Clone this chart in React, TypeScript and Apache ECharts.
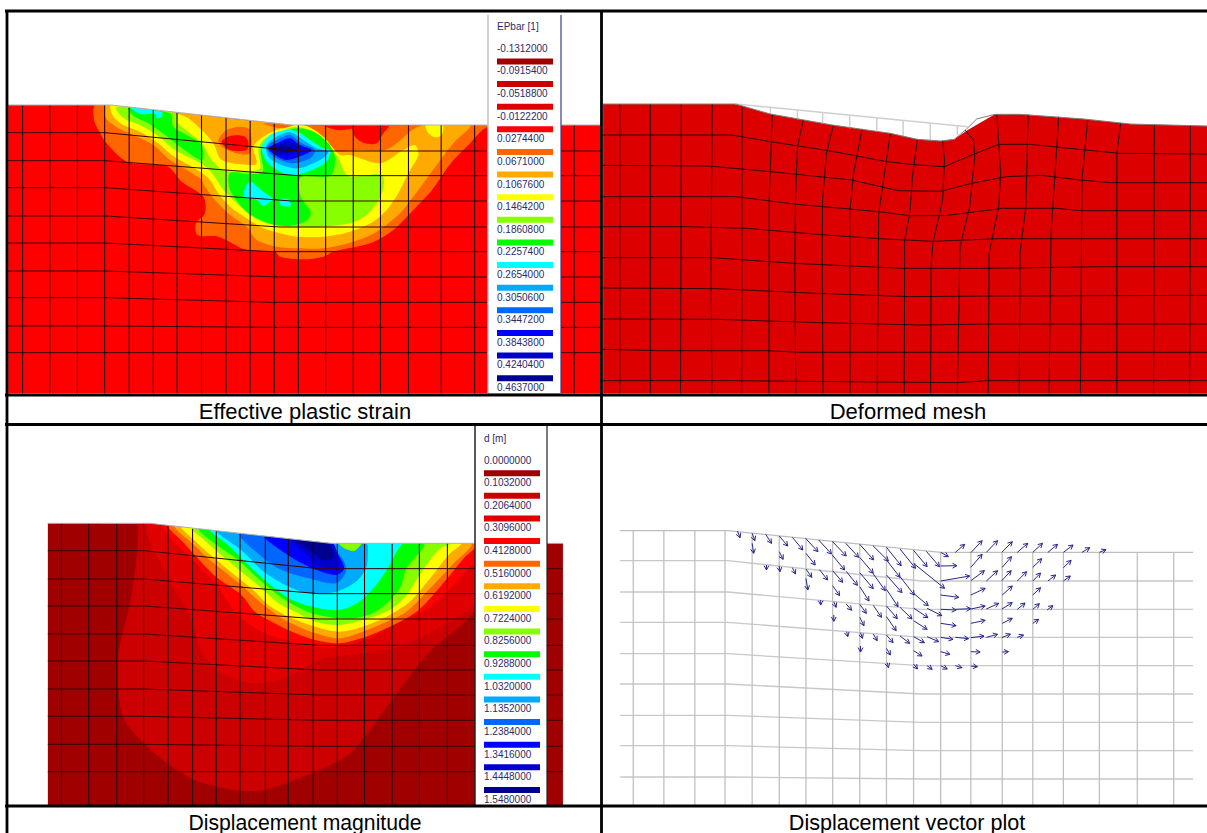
import React, { useEffect, useRef } from "react";
import * as echarts from "echarts";

type P = number[];
const C = { dk: "#a00000", r1: "#cc0000", r2: "#e00000", red: "#ff0000", or: "#ff6600", am: "#ffaa00", ye: "#ffff00", li: "#88ff00", gr: "#00ff00", cy: "#00ffff", sk: "#00aaff", az: "#0066ff", bl: "#0000ff", b2: "#0000cc", b3: "#000090" };

const strainTicks = ["-0.1312000", "-0.0915400", "-0.0518800", "-0.0122200", "0.0274400", "0.0671000", "0.1067600", "0.1464200", "0.1860800", "0.2257400", "0.2654000", "0.3050600", "0.3447200", "0.3843800", "0.4240400", "0.4637000"];
const dispTicks = ["0.0000000", "0.1032000", "0.2064000", "0.3096000", "0.4128000", "0.5160000", "0.6192000", "0.7224000", "0.8256000", "0.9288000", "1.0320000", "1.1352000", "1.2384000", "1.3416000", "1.4448000", "1.5480000"];
const strainSwatches = [C.dk, C.r1, C.r2, C.red, C.or, C.am, C.ye, C.li, C.gr, C.cy, C.sk, C.az, C.bl, C.b2, C.b3];
const captions: [string, number, number, number][] = [["Effective plastic strain", 305, 411, 22], ["Deformed mesh", 908, 411, 22], ["Displacement magnitude", 305, 822, 21.2], ["Displacement vector plot", 907, 822, 21.6]];

// Panel A mesh
const aDomain: P[] = [[21, 315], [285, 315], [750, 375], [1545, 375], [1545, 1180], [21, 1180]];
const aSky: P[] = [[-30, -30], [1100, -30], [1300, 75], [610, 75], [65, 15], [-30, 15]];
const aRows: P[][] = [
  [[21, 398], [270, 398], [767, 453], [1545, 453]], [[21, 482], [270, 482], [767, 527], [1545, 527]],
  [[21, 563], [270, 563], [750, 603], [1545, 603]], [[21, 648], [270, 648], [720, 681], [1545, 681]],
  [[21, 729], [270, 729], [700, 755], [1545, 755]], [[21, 813], [270, 813], [720, 831], [1545, 831]],
  [[21, 893], [270, 893], [700, 907], [1545, 907]], [[21, 978], [270, 978], [700, 982], [1545, 982]],
  [[21, 1058], [1545, 1058]],
];
const aColX = [58, 128, 199, 269, 332, 394, 455, 518, 581, 643, 705, 767, 837, 908, 978, 1050, 1134, 1220, 1476];
const aColTop = [315, 315, 315, 315, 322, 330, 338, 346, 354, 362, 370, 375, 375, 375, 375, 375, 375, 375, 375];

// Panel A contours
const strainLayers: [string, P[]][] = [
  [C.or, [[15, 15], [12, 60], [25, 90], [50, 130], [110, 185], [190, 195], [235, 200], [275, 245], [340, 290], [345, 340], [318, 370], [322, 405], [385, 410], [470, 450], [555, 455], [570, 470], [640, 478], [700, 470], [730, 455], [840, 430], [910, 390], [970, 330], [1026, 270], [1083, 189], [1140, 130], [1177, 90], [1200, 75], [610, 75], [65, 15]]],
  [C.am, [[45, 18], [48, 55], [85, 85], [130, 105], [190, 135], [240, 180], [330, 235], [345, 260], [375, 300], [420, 345], [470, 380], [500, 420], [560, 440], [620, 445], [700, 445], [790, 425], [860, 395], [930, 340], [985, 270], [1040, 195], [1090, 130], [1140, 75], [1000, 75], [960, 95], [920, 130], [885, 150], [800, 150], [720, 150], [640, 75], [480, 62], [65, 15]]],
  [C.ye, [[60, 20], [70, 50], [100, 75], [150, 95], [205, 130], [245, 165], [330, 215], [360, 240], [385, 280], [420, 320], [470, 355], [520, 385], [570, 400], [620, 410], [700, 410], [780, 395], [850, 365], [890, 330], [925, 280], [955, 220], [985, 165], [975, 135], [940, 150], [870, 190], [780, 165], [750, 165], [700, 110], [650, 78], [600, 75], [570, 85], [520, 110], [490, 140], [500, 190], [480, 195], [395, 180], [370, 130], [330, 85], [275, 45], [65, 15]]],
  [C.ye, [[1008, 75], [1015, 100], [1035, 112], [1055, 105], [1058, 75]]],
  [C.li, [[80, 20], [85, 40], [110, 60], [150, 75], [200, 105], [255, 150], [340, 195], [370, 225], [400, 270], [440, 310], [480, 345], [530, 370], [600, 380], [690, 380], [780, 370], [830, 345], [860, 310], [880, 265], [875, 225], [775, 228], [745, 175], [720, 140], [680, 100], [620, 80], [570, 95], [520, 120], [505, 150], [510, 205], [470, 215], [400, 210], [365, 180], [335, 130], [300, 100], [265, 70], [260, 40]]],
  [C.gr, [[115, 25], [130, 48], [175, 70], [225, 105], [270, 140], [335, 180], [335, 135], [290, 105], [250, 80], [240, 40]]],
  [C.gr, [[420, 218], [420, 270], [470, 335], [530, 368], [590, 378], [650, 362], [662, 335], [632, 290], [632, 232], [720, 228], [735, 175], [715, 130], [670, 95], [620, 85], [570, 100], [525, 125], [512, 155], [518, 215], [470, 222]]],
  [C.cy, [[125, 24], [150, 42], [195, 42], [200, 55], [215, 50], [215, 36]]],
  [C.cy, [[478, 245], [460, 290], [500, 300], [520, 318], [540, 305], [550, 298], [520, 275]]],
  [C.cy, [[568, 298], [572, 316], [602, 318], [595, 298]]],
  [C.or, [[385, 120], [410, 90], [450, 80], [480, 90], [480, 160], [440, 160], [395, 140]]],
  [C.red, [[395, 125], [420, 108], [460, 108], [475, 125], [470, 150], [420, 150]]],
  [C.red, [[790, 78], [795, 110], [825, 130], [860, 130], [880, 100], [895, 78]]],
  [C.red, [[700, 76], [790, 76], [790, 85], [740, 90]]],
  [C.or, [[520, 70], [610, 75], [570, 85]]],
  [C.cy, [[520, 130], [540, 105], [590, 90], [625, 95], [660, 120], [700, 145], [722, 152], [705, 190], [620, 225], [570, 215], [530, 185], [515, 150]]],
  [C.sk, [[530, 135], [560, 110], [600, 97], [640, 120], [680, 145], [715, 155], [690, 180], [625, 205], [575, 195], [535, 170]]],
  [C.az, [[530, 140], [570, 115], [600, 105], [635, 130], [675, 150], [660, 175], [610, 190], [570, 180], [545, 165]]],
  [C.bl, [[535, 145], [570, 125], [600, 115], [630, 135], [665, 150], [640, 165], [590, 180], [555, 165]]],
  [C.b2, [[540, 145], [575, 130], [605, 125], [630, 145], [600, 165], [565, 165]]],
  [C.b3, [[545, 147], [580, 137], [620, 148], [590, 158], [560, 155]]],
];

// Panel B mesh
const bDomain: P[] = [[8, 312], [350, 312], [440, 342], [600, 375], [750, 400], [820, 418], [880, 423], [915, 418], [950, 390], [1020, 343], [1085, 343], [1250, 357], [1370, 372], [1568, 378], [1568, 1180], [8, 1180]];
const bRows: P[][] = [
  [[8, 405], [340, 405], [440, 425], [590, 452], [740, 485], [820, 495], [890, 500], [950, 470], [1030, 433], [1110, 433], [1340, 460], [1568, 462]],
  [[8, 496], [280, 498], [440, 515], [650, 540], [770, 572], [880, 574], [960, 550], [1050, 530], [1140, 526], [1240, 540], [1320, 548], [1568, 548]],
  [[8, 590], [350, 590], [500, 612], [720, 635], [800, 647], [890, 647], [1040, 625], [1180, 625], [1240, 632], [1568, 632]],
  [[8, 680], [220, 680], [380, 685], [560, 703], [720, 716], [860, 724], [1030, 716], [1568, 716]],
  [[8, 773], [290, 773], [500, 790], [780, 805], [1000, 805], [1310, 800], [1568, 800]],
  [[8, 864], [300, 866], [560, 880], [800, 890], [1030, 888], [1568, 886]],
  [[8, 957], [300, 958], [570, 968], [830, 975], [1010, 972], [1568, 972]],
  [[8, 1048], [150, 1052], [430, 1052], [520, 1057], [1568, 1057]],
  [[8, 1142], [340, 1142], [920, 1148], [1000, 1142], [1568, 1142]],
];
const bCols: P[][] = [
  [[51, 312], [51, 1180]], [[130, 312], [130, 1180]], [[210, 312], [208, 1180]], [[290, 312], [287, 750], [287, 800], [289, 1180]],
  [[367, 318], [366, 1180]], [[445, 342], [437, 600], [436, 1180]], [[525, 360], [510, 440], [505, 600], [503, 800], [506, 1180]],
  [[603, 375], [585, 460], [575, 600], [574, 770], [576, 1180]], [[677, 388], [655, 520], [645, 640], [646, 1180]],
  [[750, 400], [740, 480], [720, 640], [716, 1180]], [[820, 418], [808, 520], [800, 640], [787, 720], [786, 1180]],
  [[885, 423], [890, 480], [885, 600], [860, 730], [855, 800], [854, 1180]], [[943, 390], [965, 420], [968, 470], [955, 620], [930, 740], [923, 1180]],
  [[1025, 343], [1035, 520], [1030, 620], [1005, 760], [1003, 1180]], [[1106, 343], [1100, 620], [1085, 760], [1083, 1180]],
  [[1185, 350], [1175, 530], [1165, 700], [1160, 1180]], [[1260, 358], [1245, 540], [1241, 1180]], [[1345, 370], [1335, 460], [1335, 1180]],
  [[1432, 376], [1430, 1180]], [[1525, 378], [1525, 550], [1523, 1180]],
];
const bGhost: P[][] = [
  [[350, 312], [950, 380]], [[440, 322], [440, 342]], [[510, 330], [510, 358]], [[575, 337], [575, 372]], [[645, 345], [645, 385]],
  [[715, 352], [715, 395]], [[783, 362], [783, 408]], [[853, 370], [853, 420]], [[923, 378], [923, 405]],
];
const bOutline: P[] = [[8, 312], [350, 312], [440, 342], [600, 375], [750, 400], [820, 418], [880, 423], [915, 418], [947, 387], [973, 357], [1020, 343], [1085, 343], [1250, 357], [1370, 372], [1568, 378]];

// Panel C mesh
const cDomain: P[] = [[123, 310], [385, 310], [850, 370], [1447, 370], [1447, 1155], [123, 1155]];
const cSky: P[] = [[-60, -60], [1200, -60], [1200, 85], [630, 85], [90, 25], [-60, 25]];
const cRowLeft = [392, 477, 558, 642, 723, 807, 889, 973, 1055];
const cRowRight = [446, 521, 597, 676, 750, 825, 901, 979, 1055];
const cColX = [158, 228, 300, 369, 432, 495, 556, 617, 682, 741, 805, 867, 937, 1008, 1078, 1150];
const cColTop = [310, 310, 310, 310, 318, 326, 334, 341, 349, 357, 365, 370, 370, 370, 370, 370];

// Panel C contours
const dispLayers: [string, P[]][] = [
  [C.r1, [[54, 25], [54, 55], [48, 135], [31, 255], [-4, 415], [-4, 535], [13, 615], [71, 685], [140, 745], [221, 795], [337, 825], [429, 825], [568, 775], [683, 715], [799, 565], [914, 415], [1058, 275], [1058, 85], [630, 85], [90, 25]]],
  [C.r2, [[88, 25], [140, 185], [209, 305], [244, 415], [302, 475], [394, 505], [498, 485], [590, 435], [717, 415], [830, 395], [960, 330], [1068, 250], [1068, 85], [630, 85]]],
  [C.red, [[125, 29], [150, 70], [200, 120], [250, 170], [290, 215], [350, 300], [420, 350], [490, 375], [580, 395], [650, 395], [740, 370], [830, 320], [900, 290], [970, 230], [1030, 165], [1068, 130], [1068, 85], [630, 85]]],
  [C.or, [[145, 31], [190, 85], [240, 140], [290, 190], [360, 240], [400, 290], [450, 320], [510, 350], [580, 375], [650, 385], [730, 365], [790, 340], [880, 290], [950, 215], [1020, 130], [1060, 85], [630, 85]]],
  [C.am, [[165, 33], [215, 85], [260, 130], [310, 170], [365, 215], [420, 265], [480, 310], [530, 335], [580, 355], [650, 370], [720, 350], [780, 325], [850, 290], [920, 220], [985, 150], [1040, 85], [630, 85]]],
  [C.ye, [[185, 36], [225, 80], [280, 130], [340, 180], [395, 225], [440, 270], [500, 305], [580, 335], [650, 350], [720, 335], [790, 305], [860, 260], [920, 190], [975, 120], [1010, 85], [630, 85]]],
  [C.li, [[215, 39], [250, 75], [300, 120], [360, 170], [420, 220], [470, 265], [520, 290], [580, 320], [650, 330], [720, 315], [800, 285], [850, 240], [895, 170], [950, 100], [985, 85], [630, 85]]],
  [C.gr, [[235, 41], [280, 85], [350, 135], [420, 200], [490, 255], [570, 295], [650, 310], [720, 305], [780, 275], [830, 220], [850, 160], [900, 85], [630, 85]]],
  [C.cy, [[270, 45], [320, 90], [365, 135], [440, 205], [510, 255], [590, 280], [650, 285], [710, 260], [760, 210], [800, 150], [820, 110], [835, 85], [630, 85]]],
  [C.sk, [[290, 47], [365, 110], [420, 165], [490, 210], [560, 235], [640, 230], [700, 200], [730, 160], [735, 120], [730, 85], [630, 85]]],
  [C.li, [[650, 85], [665, 100], [695, 108], [715, 85]]],
  [C.az, [[355, 55], [420, 125], [480, 165], [560, 190], [640, 205], [670, 170], [665, 140], [645, 110], [630, 85]]],
  [C.bl, [[430, 63], [490, 115], [560, 155], [640, 180], [665, 160], [645, 115], [630, 85]]],
  [C.b2, [[505, 71], [560, 125], [600, 158], [640, 155], [640, 120], [625, 85]]],
  [C.b3, [[520, 72], [570, 110], [600, 135], [630, 130], [635, 110], [610, 82]]],
];

// Panel D mesh
const dRowLeft = [182, 276, 367, 461, 552, 646, 737, 831];
const dRowRight = [243, 328, 412, 497, 582, 667, 752, 837];
const dColX = [86, 165, 245, 323, 393, 463, 532, 601, 671, 740, 810, 880, 958, 1039, 1118, 1197, 1290, 1388, 1482];
const dColTop = [92, 92, 92, 92, 99, 108, 116, 124, 132, 140, 149, 157, 157, 157, 157, 157, 157, 157, 157];
const dSurface: P[] = [[52, 92], [330, 92], [880, 157], [1532, 157]];

// Panel D vectors: tail x, tail y, head x, head y
const vectors: number[][] = [
  [355, 93, 362, 113], [393, 100, 400, 122], [428, 103, 443, 130], [463, 108, 485, 138], [497, 112, 524, 150], [531, 115, 563, 155], [565, 120, 598, 162], [600, 124, 636, 168], [635, 130, 668, 172], [671, 133, 707, 180], [705, 137, 745, 183], [740, 142, 778, 197], [775, 147, 815, 205], [810, 151, 845, 200], [843, 154, 877, 200], [880, 157, 900, 170],
  [918, 157, 942, 133], [958, 158, 987, 122], [998, 157, 1027, 122], [1038, 157, 1065, 125], [1078, 157, 1105, 130], [1118, 157, 1143, 130], [1157, 157, 1182, 133], [1197, 157, 1222, 135], [1245, 157, 1265, 143], [1290, 157, 1307, 149],
  [393, 130, 397, 160], [463, 155, 473, 178], [532, 160, 556, 195], [600, 165, 632, 210], [671, 172, 706, 220], [740, 180, 775, 232], [810, 190, 890, 265], [880, 198, 922, 197], [958, 202, 987, 163], [1039, 202, 1063, 170], [1118, 202, 1141, 176], [1197, 203, 1217, 181],
  [430, 195, 430, 210], [463, 198, 465, 215], [497, 203, 505, 222], [532, 207, 547, 232], [567, 209, 588, 240], [601, 212, 627, 247], [636, 214, 665, 256], [671, 218, 706, 266], [706, 222, 737, 272], [740, 225, 780, 278], [775, 230, 812, 285], [880, 243, 955, 228], [958, 242, 993, 212], [998, 243, 1027, 212], [1038, 242, 1062, 212], [1078, 243, 1102, 215], [1118, 243, 1138, 219], [1157, 243, 1177, 225], [1197, 243, 1215, 228],
  [532, 235, 537, 270], [601, 257, 619, 287], [671, 260, 695, 303], [740, 268, 770, 320], [810, 280, 848, 317], [880, 285, 927, 292], [958, 285, 995, 265], [1039, 285, 1065, 258], [1118, 285, 1138, 263],
  [570, 300, 570, 315], [604, 305, 610, 322], [636, 312, 650, 331], [671, 313, 688, 340], [706, 316, 727, 352], [740, 318, 768, 356], [775, 322, 806, 357], [810, 324, 847, 353], [845, 325, 883, 347], [880, 328, 920, 330], [918, 328, 958, 326], [958, 327, 995, 318], [998, 327, 1030, 310], [1038, 327, 1065, 308], [1078, 328, 1098, 309], [1118, 328, 1135, 311], [1155, 330, 1170, 317],
  [604, 345, 604, 364], [671, 352, 682, 377], [740, 350, 765, 392], [810, 362, 845, 388], [880, 370, 920, 377], [958, 370, 995, 361], [1039, 370, 1065, 355], [1118, 370, 1133, 358],
  [637, 395, 640, 410], [673, 398, 678, 415], [706, 402, 716, 422], [740, 405, 757, 428], [775, 408, 800, 430], [810, 410, 838, 428], [845, 410, 875, 425], [880, 412, 912, 418], [918, 412, 952, 416], [958, 413, 992, 408], [998, 412, 1027, 403], [1038, 413, 1060, 402], [1078, 412, 1094, 405],
  [673, 438, 673, 456], [740, 445, 750, 465], [810, 452, 832, 468], [880, 455, 904, 463], [958, 455, 982, 456], [1039, 456, 1055, 455],
  [742, 488, 745, 503], [810, 492, 820, 507], [845, 497, 858, 508], [880, 497, 897, 507], [918, 497, 935, 503], [958, 498, 975, 500],
];

const views = [
  { left: 0, top: 0, width: 1207, height: 833, x: 1207, y: 833 },
  { left: 0, top: 0, width: 610, height: 430, x: 1568, y: 1290 },
  { left: 90, top: 100, width: 350, height: 170, x: 1050, y: 510 },
  { left: 600, top: 0, width: 607, height: 430, x: 1568, y: 1290 },
  { left: 0, top: 420, width: 610, height: 413, x: 1568, y: 1239 },
  { left: 120, top: 515, width: 360, height: 170, x: 1068, y: 510 },
  { left: 600, top: 500, width: 607, height: 333, x: 1568, y: 999 },
];
const PAGE = 0, A = 1, A2 = 2, B = 3, CC = 4, C2 = 5, D = 6;

let seq = 0;
function series(view: number, n: number, draw: (i: number, api: any) => any) {
  return {
    type: "custom", coordinateSystem: "cartesian2d", xAxisIndex: view, yAxisIndex: view, clip: false, silent: true, z: 2 + seq++,
    data: Array.from({ length: n }, (_, i) => [i, 0]), encode: { x: 0, y: 1 },
    renderItem: (_: any, api: any) => draw(api.value(0), api),
  };
}
const polygons = (view: number, items: [string, P[]][], smooth = 0) =>
  series(view, items.length, (i, api) => ({ type: "polygon", shape: { points: items[i][1].map((p) => api.coord(p)), smooth }, style: { fill: items[i][0], stroke: null } }));
const polylines = (view: number, items: P[][], stroke: string, lineWidth: number) =>
  series(view, items.length, (i, api) => ({ type: "polyline", shape: { points: items[i].map((p) => api.coord(p)) }, style: { stroke, lineWidth, fill: null } }));

function legend(x: number, right: number, top: number, bottom: number, firstText: number, title: string, titleY: number, ticks: string[], lb: string, rb: string) {
  const out: any[] = [];
  out.push(series(PAGE, 1, (_, api) => {
    const a = api.coord([x - 9, top]), b = api.coord([right, bottom]);
    return { type: "rect", shape: { x: a[0], y: a[1], width: b[0] - a[0], height: b[1] - a[1] }, style: { fill: "#ffffff" } };
  }));
  out.push(polylines(PAGE, [[[x - 9, top], [x - 9, bottom]]], lb, 1.5));
  out.push(polylines(PAGE, [[[right, top], [right, bottom]]], rb, 1.2));
  out.push(series(PAGE, strainSwatches.length, (i, api) => {
    const a = api.coord([x, firstText + 10.2 + i * 22.62]), b = api.coord([x + 56, firstText + 16.2 + i * 22.62]);
    return { type: "rect", shape: { x: a[0], y: a[1], width: b[0] - a[0], height: b[1] - a[1] }, style: { fill: strainSwatches[i] } };
  }));
  out.push(series(PAGE, ticks.length + 1, (i, api) => {
    const label = i === 0 ? title : ticks[i - 1];
    const p = api.coord([x, i === 0 ? titleY : firstText + (i - 1) * 22.62]);
    return { type: "text", style: { text: label, x: p[0], y: p[1], fill: "#2b2b66", font: '10px "Liberation Sans"', align: "left", verticalAlign: "middle" } };
  }));
  return out;
}

function buildOption() {
  seq = 0;
  const s: any[] = [];
  // Panel A
  s.push(polygons(A, [[C.red, aDomain]]));
  s.push(polygons(A2, strainLayers, 0.3));
  s.push(polygons(A2, [["#ffffff", aSky]]));
  s.push(polylines(A, aRows, "#3a0000", 1));
  s.push(polylines(A, aColX.map((x, i) => [[x, aColTop[i]], [x, 1180]]), "#2a0000", 1.1));
  s.push(polylines(A, [[[21, 315], [285, 315], [750, 375], [1545, 375]]], "#b0b0b0", 1));
  s.push(...legend(497, 561, 15, 393, 48.3, "EPbar [1]", 26, strainTicks, "#c0c0c0", "#3a3a8c"));
  // Panel B
  s.push(polygons(B, [["#dc0000", bDomain]]));
  s.push(polylines(B, bRows, "#300000", 1));
  s.push(polylines(B, bCols, "#200000", 1));
  s.push(polylines(B, bGhost, "#cfcfcf", 1.5));
  s.push(polylines(B, [bOutline], "#808080", 1));
  // Panel C
  s.push(polygons(CC, [[C.dk, cDomain]]));
  s.push(polygons(C2, dispLayers, 0.3));
  s.push(polygons(C2, [["#ffffff", cSky]]));
  s.push(polylines(CC, cRowLeft.map((l, i) => [[123, l], [370, l], [820, cRowRight[i]], [1447, cRowRight[i]]]), "#3a0000", 1));
  s.push(polylines(CC, cColX.map((x, i) => [[x, cColTop[i]], [x, 1155]]), "#2a0000", 1.1));
  s.push(polylines(CC, [[[123, 310], [385, 310], [850, 370], [1447, 370]]], "#b0b0b0", 1));
  s.push(...legend(484, 547, 426, 805, 460, "d [m]", 438, dispTicks, "#222222", "#222222"));
  // Panel D
  s.push(polylines(D, dRowLeft.map((l, i) => [[52, l], [330, l], [830, dRowRight[i]], [1532, dRowRight[i]]]), "#c8c8c8", 1.3));
  s.push(polylines(D, dColX.map((x, i) => [[x, dColTop[i]], [x, 915]]), "#c0c0c0", 1.3));
  s.push(polylines(D, [dSurface], "#bdbdbd", 1.2));
  s.push(series(D, vectors.length, (i, api) => {
    const v = vectors[i];
    const a = api.coord([v[0], v[1]]), b = api.coord([v[2], v[3]]);
    const ang = Math.atan2(b[1] - a[1], b[0] - a[0]);
    const h = 5;
    const seg = (x1: number, y1: number, x2: number, y2: number) => ({ type: "line", shape: { x1, y1, x2, y2 }, style: { stroke: "#27278f", lineWidth: 1 } });
    return {
      type: "group",
      children: [
        seg(a[0], a[1], b[0], b[1]),
        seg(b[0], b[1], b[0] - h * Math.cos(ang - 0.5), b[1] - h * Math.sin(ang - 0.5)),
        seg(b[0], b[1], b[0] - h * Math.cos(ang + 0.5), b[1] - h * Math.sin(ang + 0.5)),
      ],
    };
  }));
  // Table frame and captions
  const frame: P[][] = [[[5, 11], [1207, 11]], [[7, 10], [7, 833]], [[601.5, 10], [601.5, 833]], [[5, 395], [1207, 395]], [[5, 424.5], [1207, 424.5]], [[5, 806], [1207, 806]]];
  s.push(series(PAGE, 1, (_, api) => {
    const a = api.coord([8, 396.5]), b = api.coord([1207, 423]);
    return { type: "rect", shape: { x: a[0], y: a[1], width: b[0] - a[0], height: b[1] - a[1] }, style: { fill: "#ffffff" } };
  }));
  s.push(series(PAGE, 1, (_, api) => {
    const a = api.coord([8, 807.5]), b = api.coord([1207, 833]);
    return { type: "rect", shape: { x: a[0], y: a[1], width: b[0] - a[0], height: b[1] - a[1] }, style: { fill: "#ffffff" } };
  }));
  s.push(polylines(PAGE, frame, "#000000", 2.8));
  s.push(series(PAGE, captions.length, (i, api) => {
    const p = api.coord([captions[i][1], captions[i][2]]);
    return { type: "text", style: { text: captions[i][0], x: p[0], y: p[1], fill: "#000000", font: captions[i][3] + 'px "Liberation Sans"', align: "center", verticalAlign: "middle" } };
  }));
  return {
    animation: false,
    backgroundColor: "#ffffff",
    grid: views.map((v) => ({ left: v.left, top: v.top, width: v.width, height: v.height, containLabel: false, show: false })),
    xAxis: views.map((v, i) => ({ type: "value", gridIndex: i, min: 0, max: v.x, show: false })),
    yAxis: views.map((v, i) => ({ type: "value", gridIndex: i, min: 0, max: v.y, inverse: true, show: false })),
    series: s,
  };
}

export default function App() {
  const ref = useRef<HTMLDivElement>(null);
  useEffect(() => {
    document.body.style.margin = "0";
    const chart = echarts.init(ref.current!, undefined, { renderer: "svg" });
    chart.setOption(buildOption() as any);
    return () => chart.dispose();
  }, []);
  return <div ref={ref} style={{ width: 1207, height: 833 }} />;
}
